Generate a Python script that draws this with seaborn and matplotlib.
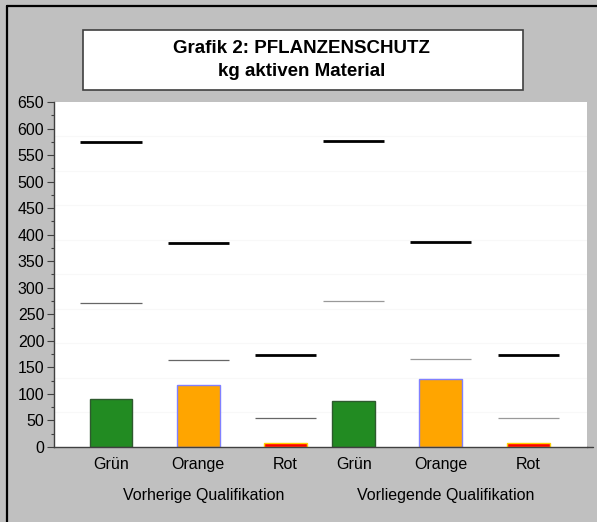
import numpy as np
import pandas as pd
import matplotlib
matplotlib.use("Agg")
import matplotlib.pyplot as plt
import matplotlib.colors as mcolors
from matplotlib.lines import Line2D
from matplotlib.patches import Rectangle
from matplotlib.ticker import MultipleLocator
import seaborn as sns

# Data
farben = ["Grün", "Orange", "Rot", "Grün", "Orange", "Rot"]
gruppen = ["Vorherige Qualifikation", "Vorliegende Qualifikation"]
kg_wert = [90, 117, 8, 86, 128, 8]
kg_max = [575, 384, 173, 577, 386, 173]
kg_grenze = [272, 164, 54, 275, 165, 55]

# x positions of the bars (second group sits a bit closer)
pos = [0, 1, 2, 2.78, 3.78, 4.78]

fill = {"Grün": "#228B22", "Orange": "#FFA500", "Rot": "#FF0000"}
edge = {"Grün": "#2E5A2E", "Orange": "#8080FF", "Rot": "#FFD000"}

sns.set_theme(style="white")
plt.rcParams["font.family"] = ["Liberation Sans", "DejaVu Sans"]
plt.rcParams["text.color"] = "black"
plt.rcParams["xtick.color"] = "black"
plt.rcParams["ytick.color"] = "black"

df = pd.DataFrame({"pos": pos, "kg": kg_wert, "farbe": farben})

fig = plt.figure(figsize=(5.97, 5.22), dpi=100, facecolor="#C0C0C0")
ax = fig.add_axes([0.0905, 0.1437, 0.8925, 0.6609])
ax.set_facecolor("white")

# very faint horizontal grid
for g in np.arange(65, 650, 65):
    ax.axhline(g, color="#F8F8F8", lw=0.8, zorder=0)

sns.barplot(data=df, x="pos", y="kg", hue="farbe", hue_order=["Grün", "Orange", "Rot"],
            palette=fill, saturation=1, native_scale=True, dodge=False, width=0.63,
            legend=False, ax=ax, zorder=2)

# edge colours per bar
for p in ax.patches:
    fc = mcolors.to_hex(p.get_facecolor())
    for k, v in fill.items():
        if mcolors.to_hex(v) == fc:
            p.set_edgecolor(edge[k])
            p.set_linewidth(1.0)

# max lines (thick) and limit lines (thin)
half = 0.35
ax.hlines(kg_max, [x - half for x in pos], [x + half for x in pos],
          color="black", lw=2.0, zorder=3)
thin_col = ["#666666"] * 3 + ["#999999"] * 3
ax.hlines(kg_grenze, [x - half for x in pos], [x + half for x in pos],
          color=thin_col, lw=0.9, zorder=3)

ax.set_xlim(-0.653, 5.452)
ax.set_ylim(0, 650)
ax.set_xticks(pos)
ax.set_xticklabels(farben, fontsize=11.5, color="black")
ax.tick_params(axis="x", length=0, pad=7)
ax.yaxis.set_major_locator(MultipleLocator(50))
ax.yaxis.set_minor_locator(MultipleLocator(25))
ax.tick_params(axis="y", which="major", left=True, length=5, width=0.8,
               color="#404040", labelcolor="black", labelsize=11.5, pad=2,
               direction="out")
ax.tick_params(axis="y", which="minor", left=True, length=2.5, width=0.8,
               color="#404040", direction="out")
ax.set_xlabel("")
ax.set_ylabel("")

for s in ["top", "right"]:
    ax.spines[s].set_visible(False)
for s in ["left", "bottom"]:
    ax.spines[s].set_color("#404040")
    ax.spines[s].set_linewidth(1.0)

# group labels (sit slightly right of the middle bar)
trans = ax.get_xaxis_transform()
ax.text(np.mean(pos[:3]) + 0.06, -0.142, gruppen[0], transform=trans,
        ha="center", va="center", fontsize=11.5, color="black")
ax.text(np.mean(pos[3:]) + 0.06, -0.142, gruppen[1], transform=trans,
        ha="center", va="center", fontsize=11.5, color="black")

# bottom axis line extends a bit past the white area
fig.add_artist(Line2D([0.983, 0.993], [0.1437, 0.1437], color="#404040", lw=1.0))

# title box
fig.add_artist(Rectangle((0.139, 0.8276), 0.737, 0.115, facecolor="white",
                         edgecolor="#404040", lw=1.2))
fig.text(0.5055, 0.908, "Grafik 2: PFLANZENSCHUTZ", ha="center", va="center",
         fontsize=13.5, fontweight="bold", color="black")
fig.text(0.5055, 0.863, "kg aktiven Material", ha="center", va="center",
         fontsize=13.5, fontweight="bold", color="black")

# outer frame (top and left visible)
fig.add_artist(Line2D([0.012, 1.0], [0.988, 0.988], color="black", lw=1.6))
fig.add_artist(Line2D([0.012, 0.012], [0.0, 0.988], color="black", lw=1.6))

plt.savefig("out.png", dpi=100, facecolor=fig.get_facecolor())
plt.close()
